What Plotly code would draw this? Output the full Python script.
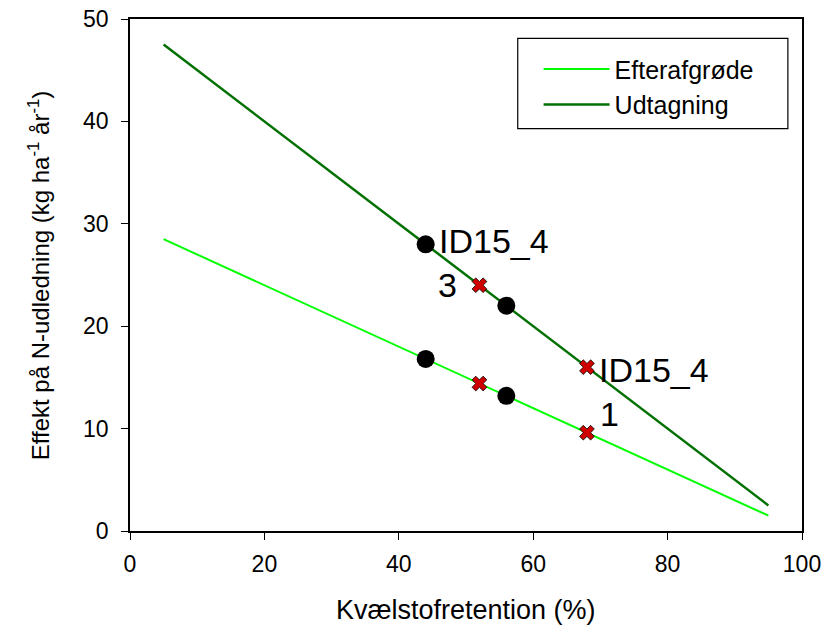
import plotly.graph_objects as go

# Data
line_x = [5, 95]
efter_line_y = [28.5, 1.5]
udtag_line_y = [47.5, 2.5]

udtag_circle_x = [44, 56]
udtag_circle_y = [28.0, 22.0]
udtag_cross_x = [52, 68]
udtag_cross_y = [24.0, 16.0]

efter_circle_x = [44, 56]
efter_circle_y = [16.8, 13.2]
efter_cross_x = [52, 68]
efter_cross_y = [14.4, 9.6]

label_texts = ["ID15_4", "3", "ID15_4", "1"]
label_x = [44, 52, 68, 68]
label_y = [28.0, 24.0, 16.0, 9.6]

x_ticks = [0, 20, 40, 60, 80, 100]
y_ticks = [0, 10, 20, 30, 40, 50]

FONT = "Liberation Sans"
LIGHT = "#00ff00"
DARK = "#007000"

fig = go.Figure()
fig.add_trace(go.Scatter(x=line_x, y=efter_line_y, mode="lines", name="Efterafgrøde",
                         line=dict(color=LIGHT, width=2)))
fig.add_trace(go.Scatter(x=line_x, y=udtag_line_y, mode="lines", name="Udtagning",
                         line=dict(color=DARK, width=2.5)))

for cx, cy in [(udtag_circle_x, udtag_circle_y), (efter_circle_x, efter_circle_y)]:
    fig.add_trace(go.Scatter(x=cx, y=cy, mode="markers", showlegend=False,
                             marker=dict(symbol="circle", size=18, color="black")))
for cx, cy in [(udtag_cross_x, udtag_cross_y), (efter_cross_x, efter_cross_y)]:
    fig.add_trace(go.Scatter(x=cx, y=cy, mode="markers", showlegend=False,
                             marker=dict(symbol="x", size=13, color="#d00000",
                                         line=dict(color="black", width=0.8))))

# label placements (pixel offsets)
offs = [(11, 3, "left"), (-20, 0, "right"), (10, -3, "left"), (11, 19, "left")]
for t, lx, ly, (xs, ys, xa) in zip(label_texts, label_x, label_y, offs):
    fig.add_annotation(x=lx, y=ly, text=t, showarrow=False, xanchor=xa, yanchor="middle",
                       xshift=xs, yshift=ys, font=dict(size=34, color="black", family=FONT))

# axis titles as annotations
fig.add_annotation(xref="paper", yref="paper", x=0.5, y=-0.155, yanchor="middle",
                   text="Kvælstofretention (%)", showarrow=False,
                   font=dict(size=27, color="black", family=FONT))
fig.add_annotation(xref="paper", yref="paper", x=-0.135, y=0.5, xanchor="center",
                   yanchor="middle", textangle=-90,
                   text="Effekt på N-udledning (kg ha<sup>-1</sup> år<sup>-1</sup>)",
                   showarrow=False, font=dict(size=24, color="black", family=FONT))

axis_common = dict(showline=True, linecolor="black", linewidth=1.5, mirror=True,
                   ticks="outside", ticklen=7, tickcolor="black", tickwidth=1,
                   showgrid=False, zeroline=False, automargin=False,
                   tickfont=dict(size=23, color="black", family=FONT))

fig.update_layout(
    width=828, height=628,
    margin=dict(l=130, r=26, t=19, b=97),
    paper_bgcolor="white", plot_bgcolor="white",
    font=dict(family=FONT, color="black"),
    xaxis=dict(range=[0, 100], tickvals=x_ticks, ticklabelstandoff=5, **axis_common),
    yaxis=dict(range=[0, 50], tickvals=y_ticks, ticklabelstandoff=8, **axis_common),
    legend=dict(x=0.608, y=0.947, xanchor="left", yanchor="top",
                bordercolor="rgba(0,0,0,0)", borderwidth=0, bgcolor="rgba(0,0,0,0)",
                font=dict(size=25, family=FONT), tracegroupgap=0, itemwidth=66),
    shapes=[dict(type="rect", xref="paper", yref="paper",
                 x0=0.577, x1=0.979, y0=0.786, y1=0.962,
                 line=dict(color="black", width=1.2), fillcolor="rgba(0,0,0,0)")],
)

fig.write_html("out.html", config={"displayModeBar": False},
               post_script="document.body.style.margin='0';")
